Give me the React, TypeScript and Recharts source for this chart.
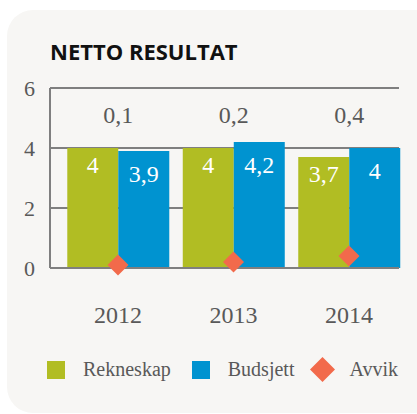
import React from 'react';
import {
	ComposedChart,
	Bar,
	Scatter,
	XAxis,
	YAxis,
	CartesianGrid,
	Legend,
	LabelList,
} from 'recharts';

const years = ['2012', '2013', '2014'];
const seriesNames = ['Rekneskap', 'Budsjett', 'Avvik'];
const rekneskap = [4, 4, 3.7];
const budsjett = [3.9, 4.2, 4];
const avvik = [0.1, 0.2, 0.4];
const yTicks = [0, 2, 4, 6];

const data = years.map((year, i) => ({
	pos: i,
	year,
	rekneskap: rekneskap[i],
	budsjett: budsjett[i],
	avvik: avvik[i],
}));

const GREEN = '#b1bd23';
const BLUE = '#0093d0';
const ORANGE = '#f26a4b';
const GRID = '#7f7f7f';
const TEXT = '#595959';
const SERIF = '"Liberation Serif", "Times New Roman", serif';
const TOP = 88;

const fmt = (v: number) => String(v).replace('.', ',');

const Diamond = (props: any) => {
	const { cx, cy } = props;
	const r = 10.5;
	return (
		<polygon
			points={`${cx},${cy - r} ${cx + r},${cy} ${cx},${cy + r} ${cx - r},${cy}`}
			fill={ORANGE}
		/>
	);
};

// avvik label sits above each year group, centred on the group
const AvvikLabel = (props: any) => {
	const { x, width, index } = props;
	return (
		<text
			x={x + width}
			y={TOP + 35}
			textAnchor="middle"
			fill={TEXT}
			fontFamily={SERIF}
			fontSize={24}
		>
			{fmt(avvik[index])}
		</text>
	);
};

const LegendContent = (props: any) => {
	const items = [...(props.payload || [])].sort(
		(a: any, b: any) => seriesNames.indexOf(a.value) - seriesNames.indexOf(b.value)
	);
	return (
		<div style={{ display: 'flex', alignItems: 'center', fontFamily: SERIF, fontSize: 20, color: TEXT }}>
			{items.map((entry: any) => (
				<div key={entry.value} style={{ display: 'flex', alignItems: 'center', marginRight: 21 }}>
					{entry.type === 'diamond' ? (
						<svg width={25} height={25} style={{ marginLeft: -5, marginRight: 14 }}>
							<polygon points="12.5,0 25,12.5 12.5,25 0,12.5" fill={entry.color} />
						</svg>
					) : (
						<div style={{ width: 18, height: 18, background: entry.color, marginRight: 18 }} />
					)}
					<span>{entry.value}</span>
				</div>
			))}
		</div>
	);
};

export default function App() {
	return (
		<div style={{ position: 'absolute', left: 0, top: 0, width: 417, height: 414, overflow: 'hidden' }}>
			<div
				style={{
					position: 'absolute',
					left: 7,
					top: 10,
					width: 436,
					height: 403,
					borderRadius: 26,
					background: '#f7f6f4',
				}}
			/>
			<div
				style={{
					position: 'absolute',
					left: 50,
					top: 38,
					fontFamily: '"Open Sans", sans-serif',
					fontWeight: 700,
					fontSize: 22,
					lineHeight: '26px',
					color: '#111',
				}}
			>
				NETTO RESULTAT
			</div>
			<div style={{ position: 'absolute', left: 0, top: 0 }}>
				<ComposedChart
					width={417}
					height={414}
					data={data}
					barGap={0}
					margin={{ top: TOP, right: 18, left: 0, bottom: 33 }}
				>
					<CartesianGrid vertical={false} stroke={GRID} strokeWidth={2} />
					<XAxis
						dataKey="pos"
						type="number"
						domain={[-0.589, 2.433]}
						ticks={[0, 1, 2]}
						tickFormatter={(v: number) => years[v]}
						axisLine={{ stroke: GRID, strokeWidth: 2 }}
						tickLine={false}
						tickSize={0}
						tickMargin={38}
						height={89}
						tick={{ fill: TEXT, fontFamily: SERIF, fontSize: 24 }}
					/>
					<YAxis
						domain={[0, 6]}
						ticks={yTicks}
						width={50}
						axisLine={{ stroke: GRID, strokeWidth: 2 }}
						tickLine={false}
						tickSize={0}
						tickMargin={15}
						tick={{ fill: TEXT, fontFamily: SERIF, fontSize: 22 }}
					/>
					<Legend
						content={<LegendContent />}
						verticalAlign="bottom"
						height={24}
						wrapperStyle={{ left: 47, width: 370, bottom: 33 }}
					/>
					<Bar dataKey="rekneskap" name="Rekneskap" fill={GREEN} barSize={51} legendType="square" isAnimationActive={false}>
						<LabelList dataKey="rekneskap" position="insideTop" offset={8} fill="#fff" fontFamily={SERIF} fontSize={24} formatter={fmt as any} />
						<LabelList dataKey="avvik" content={<AvvikLabel />} />
					</Bar>
					<Bar dataKey="budsjett" name="Budsjett" fill={BLUE} barSize={51} legendType="square" isAnimationActive={false}>
						<LabelList dataKey="budsjett" position="insideTop" offset={14} fill="#fff" fontFamily={SERIF} fontSize={24} formatter={fmt as any} />
					</Bar>
					<Scatter dataKey="avvik" name="Avvik" fill={ORANGE} shape={<Diamond />} legendType="diamond" isAnimationActive={false} />
				</ComposedChart>
			</div>
		</div>
	);
}
